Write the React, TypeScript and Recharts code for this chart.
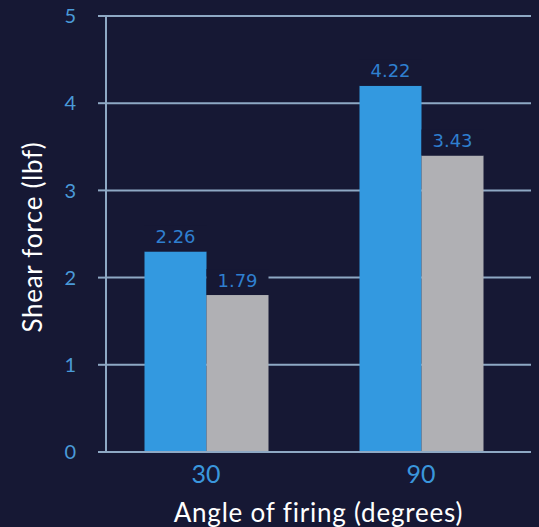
import React from "react";
import { BarChart, Bar, XAxis, YAxis, CartesianGrid, Label, LabelList } from "recharts";

const categories = ["30", "90"];
const blueValues = [2.3, 4.2];
const grayValues = [1.8, 3.4];
const blueLabels = ["2.26", "4.22"];
const grayLabels = ["1.79", "3.43"];
const yTicks = [0, 1, 2, 3, 4, 5];

const data = categories.map((c, i) => ({
  angle: c,
  blue: blueValues[i],
  gray: grayValues[i],
}));

const BG = "#161834";
const GRID = "#8ea8c4";

const makeLabel = (texts: string[]) => (props: any) => {
  const { x, y, width, index } = props;
  return (
    <g>
      <rect x={x} y={y - 26} width={width} height={26} fill={BG} />
      <text
        x={x + width / 2}
        y={y - 8.5}
        textAnchor="middle"
        fill="#2f7fcf"
        fontSize={18}
        fontFamily="DejaVu Sans"
      >
        {texts[index]}
      </text>
    </g>
  );
};

const YTitle = (props: any) => {
  const { viewBox } = props;
  const cx = viewBox.x + 32;
  const cy = viewBox.y + viewBox.height / 2 + 3;
  return (
    <text
      x={cx}
      y={cy}
      transform={`rotate(-90, ${cx}, ${cy})`}
      textAnchor="middle"
      dominantBaseline="central"
      fill="#ffffff"
      fontSize={26}
      letterSpacing={0.7}
      fontFamily="Lato"
    >
      Shear force (lbf)
    </text>
  );
};

export default function App() {
  return (
    <div style={{ position: "absolute", left: 0, top: 0, width: 539, height: 527, background: BG }}>
      <BarChart
        width={539}
        height={527}
        data={data}
        margin={{ top: 16, right: 8, bottom: 0, left: 0 }}
        barGap={0}
        barSize={62}
      >
        <CartesianGrid vertical={false} stroke={GRID} strokeWidth={2} />
        <XAxis
          dataKey="angle"
          height={75}
          padding={{ left: -7.5, right: 2.5 }}
          axisLine={{ stroke: GRID, strokeWidth: 2 }}
          tickLine={false}
          tickSize={0}
          tickMargin={13}
          tick={{ fill: "#3a96dc", fontSize: 25, fontFamily: "Lato" }}
        >
          <Label
            value="Angle of firing (degrees)"
            position="insideBottom"
            offset={5}
            fill="#ffffff"
            fontSize={26}
            letterSpacing={0.8}
            fontFamily="Lato"
          />
        </XAxis>
        <YAxis
          width={106}
          domain={[0, 5]}
          ticks={yTicks}
          axisLine={{ stroke: GRID, strokeWidth: 2 }}
          tickLine={{ stroke: GRID, strokeWidth: 2 }}
          tickSize={8}
          tickMargin={22}
          tick={{ fill: "#4a9ad8", fontSize: 20, fontFamily: "Lato" }}
        >
          <Label content={<YTitle />} />
        </YAxis>
        <YAxis
          yAxisId="r"
          orientation="right"
          width={0}
          domain={[0, 5]}
          tick={false}
          tickLine={false}
          axisLine={{ stroke: GRID, strokeWidth: 2 }}
        />
        <Bar dataKey="blue" fill="#3399e0" isAnimationActive={false}>
          <LabelList dataKey="blue" content={makeLabel(blueLabels)} />
        </Bar>
        <Bar dataKey="gray" fill="#b0b0b4" isAnimationActive={false}>
          <LabelList dataKey="gray" content={makeLabel(grayLabels)} />
        </Bar>
      </BarChart>
    </div>
  );
}
